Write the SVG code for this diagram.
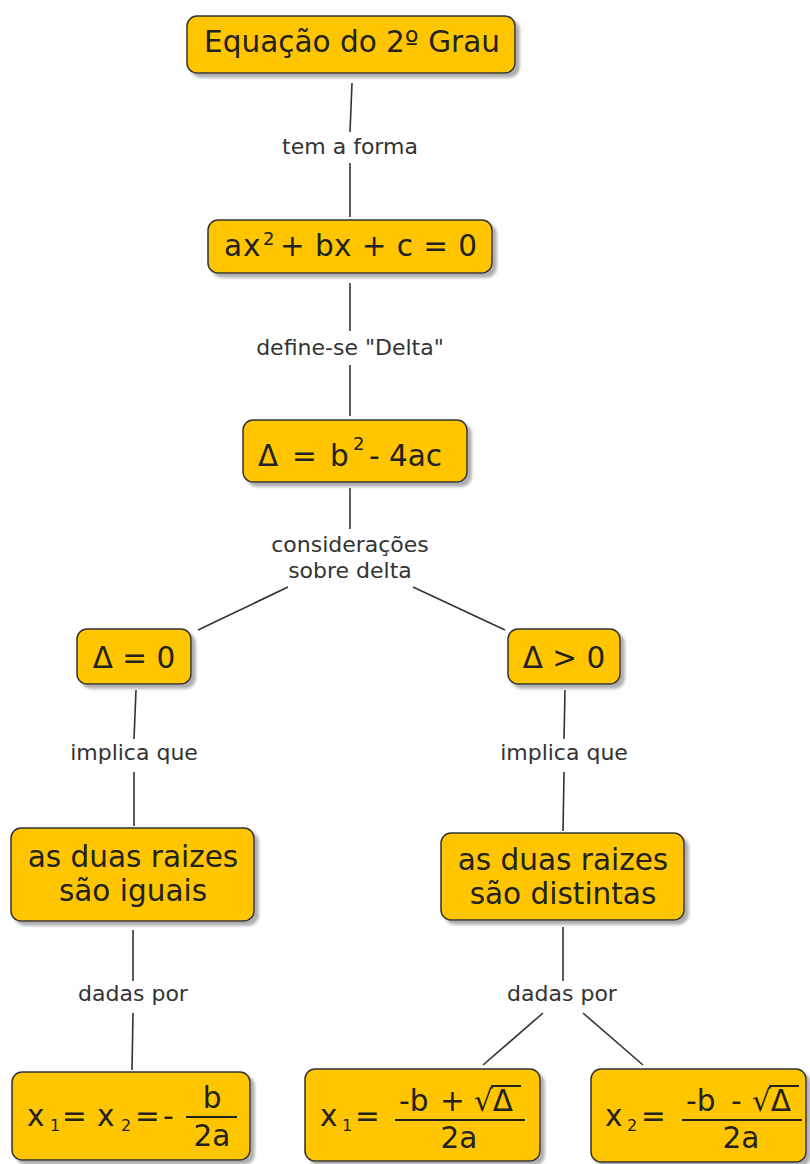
<svg xmlns="http://www.w3.org/2000/svg" width="810" height="1164" viewBox="0 0 810 1164">
<defs>
<filter id="sh" x="-10%" y="-10%" width="130%" height="140%">
<feDropShadow dx="4" dy="4" stdDeviation="1.5" flood-color="#999" flood-opacity="0.8"/>
</filter>
<style>
.box{fill:#FFC600;stroke:#333;stroke-width:1.5;filter:url(#sh)}
.t{font-family:"DejaVu Sans","Liberation Sans",sans-serif;font-size:29.5px;fill:#222}
.c{text-anchor:middle}
.s{font-size:18px}
.sub{font-size:16px}
.lb{font-family:"DejaVu Sans","Liberation Sans",sans-serif;font-size:22px;fill:#333;text-anchor:middle}
.ln{stroke:#333;stroke-width:1.6;fill:none}
.bar{stroke:#222;stroke-width:2}
</style>
</defs>
<rect width="810" height="1164" fill="#fff"/>
<g id="connectors">
<line class="ln" x1="352" y1="83" x2="350" y2="132"/>
<line class="ln" x1="350" y1="163" x2="350" y2="217"/>
<text class="lb" x="350" y="154">tem a forma</text>
<line class="ln" x1="350" y1="283" x2="350" y2="331"/>
<line class="ln" x1="350" y1="365" x2="350" y2="416"/>
<text class="lb" x="350" y="355">define-se "Delta"</text>
<line class="ln" x1="350" y1="488" x2="350" y2="529"/>
<text class="lb" x="350" y="552">considerações</text>
<text class="lb" x="350" y="578">sobre delta</text>
<line class="ln" x1="288" y1="587" x2="198" y2="630"/>
<line class="ln" x1="413" y1="587" x2="505" y2="630"/>
<line class="ln" x1="136" y1="690" x2="134" y2="739"/>
<line class="ln" x1="134" y1="772" x2="134" y2="826"/>
<text class="lb" x="134" y="760">implica que</text>
<line class="ln" x1="565" y1="690" x2="564" y2="739"/>
<line class="ln" x1="564" y1="772" x2="563" y2="831"/>
<text class="lb" x="564" y="760">implica que</text>
<line class="ln" x1="133" y1="930" x2="133" y2="981"/>
<line class="ln" x1="133" y1="1013" x2="132" y2="1070"/>
<text class="lb" x="133" y="1001">dadas por</text>
<line class="ln" x1="563" y1="927" x2="563" y2="981"/>
<text class="lb" x="562" y="1001">dadas por</text>
<line class="ln" x1="543" y1="1013" x2="483" y2="1065"/>
<line class="ln" x1="583" y1="1013" x2="643" y2="1065"/>
</g>
<g id="n1">
<rect class="box" x="187" y="16" width="328" height="57" rx="10"/>
<text class="t c" x="352" y="52">Equação do 2º Grau</text>
</g>
<g id="n2">
<rect class="box" x="208" y="220" width="284" height="53" rx="10"/>
<text class="t" x="224" y="256">a</text>
<text class="t" x="243" y="256">x</text>
<text class="t s" x="263" y="245">2</text>
<text class="t" x="280" y="256" textLength="197" lengthAdjust="spacing">+ bx + c = 0</text>
</g>
<g id="n3">
<rect class="box" x="243" y="420" width="224" height="62" rx="10"/>
<text class="t" x="258" y="466">Δ</text>
<text class="t" x="292" y="466">=</text>
<text class="t" x="330" y="466">b</text>
<text class="t s" x="353" y="450">2</text>
<text class="t" x="369" y="466">- 4ac</text>
</g>
<g id="n4">
<rect class="box" x="77" y="629" width="114" height="55" rx="10"/>
<text class="t c" x="134" y="668">Δ = 0</text>
</g>
<g id="n5">
<rect class="box" x="508" y="629" width="112" height="55" rx="10"/>
<text class="t c" x="564" y="668">Δ &gt; 0</text>
</g>
<g id="n6">
<rect class="box" x="11" y="828" width="243" height="93" rx="10"/>
<text class="t c" x="133" y="867">as duas raizes</text>
<text class="t c" x="133" y="901">são iguais</text>
</g>
<g id="n7">
<rect class="box" x="441" y="833" width="243" height="87" rx="10"/>
<text class="t c" x="563" y="870">as duas raizes</text>
<text class="t c" x="563" y="904">são distintas</text>
</g>
<g id="n8">
<rect class="box" x="12" y="1072" width="238" height="88" rx="10"/>
<text class="t" x="27" y="1126">x</text>
<text class="t sub" x="50" y="1131">1</text>
<text class="t" x="62" y="1126">=</text>
<text class="t" x="97" y="1126">x</text>
<text class="t sub" x="121" y="1131">2</text>
<text class="t" x="135" y="1126">=</text>
<text class="t" x="163" y="1126">-</text>
<line class="bar" x1="186" y1="1117" x2="237" y2="1117"/>
<text class="t c" x="212" y="1108">b</text>
<text class="t c" x="212" y="1146">2a</text>
</g>
<g id="n9">
<rect class="box" x="305" y="1069" width="235" height="92" rx="10"/>
<text class="t" x="320" y="1126">x</text>
<text class="t sub" x="342" y="1131">1</text>
<text class="t" x="355" y="1126">=</text>
<line class="bar" x1="395" y1="1120" x2="525" y2="1120"/>
<text class="t" x="399" y="1111">-b</text>
<text class="t" x="440" y="1111">+</text>
<text class="t" x="474" y="1111">√Δ</text>
<line class="bar" x1="491" y1="1086" x2="521" y2="1086"/>
<text class="t c" x="459" y="1148">2a</text>
</g>
<g id="n10">
<rect class="box" x="591" y="1069" width="215" height="93" rx="10"/>
<text class="t" x="605" y="1126">x</text>
<text class="t sub" x="627" y="1131">2</text>
<text class="t" x="641" y="1126">=</text>
<line class="bar" x1="682" y1="1120" x2="802" y2="1120"/>
<text class="t" x="686" y="1111">-b</text>
<text class="t" x="731" y="1111">-</text>
<text class="t" x="752" y="1111">√Δ</text>
<line class="bar" x1="769" y1="1086" x2="799" y2="1086"/>
<text class="t c" x="741" y="1148">2a</text>
</g>
</svg>
